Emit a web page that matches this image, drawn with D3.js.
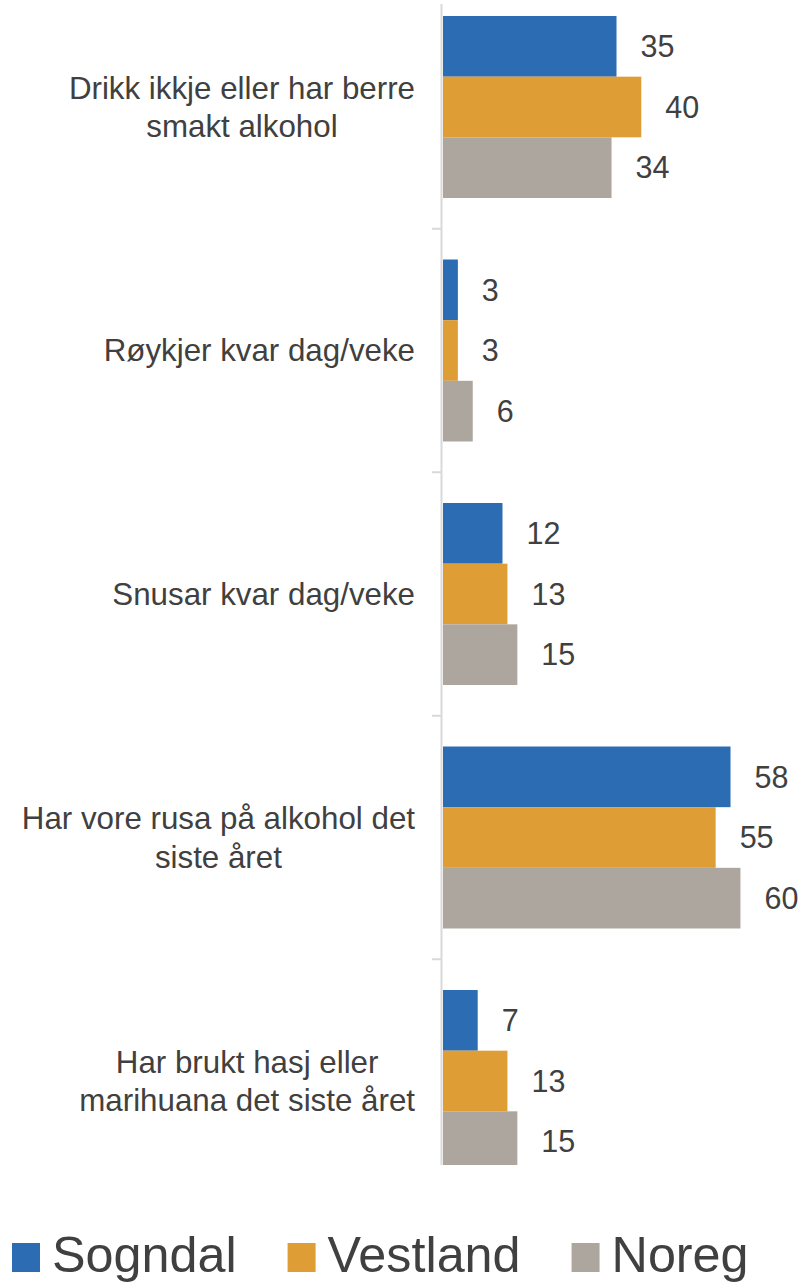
<!DOCTYPE html>
<html>
<head>
<meta charset="utf-8">
<script src="https://cdn.jsdelivr.net/npm/d3@7"></script>
<style>
body{margin:0;background:#fff;}
text{font-family:"Liberation Sans",Arial,sans-serif;fill:#404040;}
</style>
</head>
<body>
<script>
const svg_width = 801,svg_height = 1286;
var categories = [
	["Drikk ikkje eller har berre","smakt alkohol"],
	["Røykjer kvar dag/veke"],
	["Snusar kvar dag/veke"],
	["Har vore rusa på alkohol det","siste året"],
	["Har brukt hasj eller","marihuana det siste året"]
];
var seriesNames = ["Sogndal","Vestland","Noreg"];
var seriesColors = ["#2B6CB3","#DF9D36","#ADA69F"];
var sogndal = [35,3,12,58,7];
var vestland = [40,3,13,55,13];
var noreg = [34,6,15,60,15];

var seriesValues = [sogndal,vestland,noreg];
var catIds = categories.map(function(d,i){return "c"+i});

var svgContainer = d3.select("body")
.append("svg")
.attr("width",svg_width)
.attr("height",svg_height);

var axis_x = 441.5, plot_top = 4, plot_bottom = 1165;

var xScale = d3.scaleLinear().domain([0,70]).range([443,790]);
var yScale = d3.scaleBand().domain(catIds).range([-14.75,1202.75]).paddingInner(0.2526).paddingOuter(0.1263);
var ySub = d3.scaleBand().domain(seriesNames).range([0,yScale.bandwidth()]);

//clip the plot area like the original
svgContainer.append("defs").append("clipPath").attr("id","plotClip")
.append("rect").attr("x",0).attr("y",plot_top).attr("width",svg_width).attr("height",plot_bottom-plot_top);

var barGroup = svgContainer.append("g").attr("clip-path","url(#plotClip)");
for(var s in seriesNames){
	var rows = seriesValues[s].map(function(v,i){return {cat:catIds[i],value:v}});
	barGroup.append("g").selectAll("rect")
	.data(rows)
	.enter()
	.append("rect")
	.attr("x",xScale(0))
	.attr("y",function(d){return yScale(d.cat)+ySub(seriesNames[s])})
	.attr("width",function(d){return xScale(d.value)-xScale(0)})
	.attr("height",ySub.bandwidth())
	.style("fill",seriesColors[s]);
	//value labels
	barGroup.append("g").selectAll("text")
	.data(rows)
	.enter()
	.append("text")
	.attr("x",function(d){return xScale(d.value)+24})
	.attr("y",function(d){return yScale(d.cat)+ySub(seriesNames[s])+ySub.bandwidth()/2})
	.attr("dy","0.35em")
	.style("font-size","30.5px")
	.text(function(d){return d.value});
}

//axis line and ticks
var axisGroup = svgContainer.append("g");
axisGroup.append("line")
.attr("x1",axis_x).attr("x2",axis_x)
.attr("y1",plot_top).attr("y2",plot_bottom)
.attr("stroke","#D9D9D9").attr("stroke-width",2);
var tickPos = catIds.slice(1).map(function(c){return yScale(c)-yScale.step()*yScale.paddingInner()/2});
axisGroup.selectAll("line.tick")
.data(tickPos)
.enter()
.append("line")
.attr("class","tick")
.attr("x1",432).attr("x2",axis_x)
.attr("y1",function(d){return d}).attr("y2",function(d){return d})
.attr("stroke","#D9D9D9").attr("stroke-width",2);

//category labels: block right aligned, lines centred
var labelRight = 415, lineGap = 38.5;
var labelGroup = svgContainer.append("g");
categories.forEach(function(lines,i){
	var g = labelGroup.append("g");
	var cy = yScale(catIds[i])+yScale.bandwidth()/2;
	var texts = g.selectAll("text")
	.data(lines)
	.enter()
	.append("text")
	.attr("y",function(d,j){return cy+(j-(lines.length-1)/2)*lineGap})
	.attr("dy","0.35em")
	.attr("text-anchor","middle")
	.style("font-size","31.3px")
	.text(function(d){return d});
	var maxW = 0;
	texts.each(function(){maxW = Math.max(maxW,this.getComputedTextLength())});
	texts.attr("x",labelRight-maxW/2);
});

//legend
var legendGroup = svgContainer.append("g");
var lx = 12, ly = 1272;
seriesNames.forEach(function(name,i){
	legendGroup.append("rect")
	.attr("x",lx).attr("y",ly-29)
	.attr("width",28).attr("height",29)
	.style("fill",seriesColors[i]);
	var t = legendGroup.append("text")
	.attr("x",lx+40).attr("y",ly)
	.style("font-size","50.3px")
	.text(name);
	lx += 40+t.node().getComputedTextLength()+51;
});
</script>
</body>
</html>
